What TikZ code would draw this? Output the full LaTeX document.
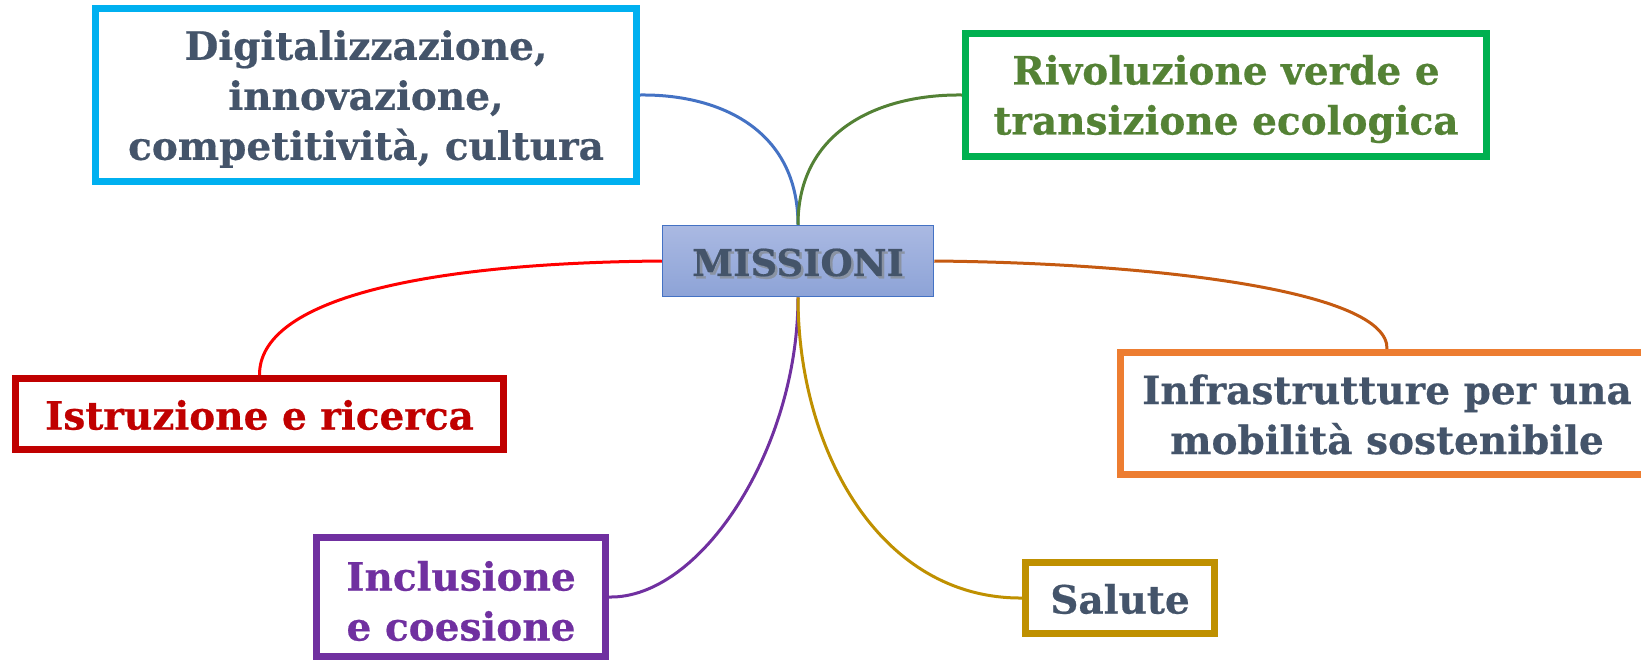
\documentclass[tikz,border=0pt]{standalone}
\usepackage{fontspec}
\setmainfont{DejaVu Serif}
\newfontfamily\heavy{DejaVu Serif Bold}[FakeBold=0.5]
\usetikzlibrary{backgrounds}
\definecolor{slate}{HTML}{44546A}
\definecolor{cyanB}{HTML}{00B0F0}
\definecolor{greenB}{HTML}{00B050}
\definecolor{greenT}{HTML}{548235}
\definecolor{redB}{HTML}{C00000}
\definecolor{orangeB}{HTML}{ED7D31}
\definecolor{purpleB}{HTML}{7030A0}
\definecolor{goldB}{HTML}{BF9000}
\definecolor{blueL}{HTML}{4472C4}
\definecolor{greenL}{HTML}{538135}
\definecolor{redL}{HTML}{FF0000}
\definecolor{orangeL}{HTML}{C55A11}
\definecolor{misTop}{HTML}{AAB9E2}
\definecolor{misBot}{HTML}{8DA3D7}
\definecolor{shadowgray}{HTML}{8A93A3}
\tikzset{
  box/.style={draw, line width=7pt, fill=white, inner sep=0pt},
  boxtext/.style={align=center, inner sep=0pt, yshift=-4pt,
    font=\fontsize{39}{50}\heavy},
  link/.style={line width=3pt},
  mistext/.style={inner sep=0pt, font=\fontsize{37}{50}\heavy},
}
\begin{document}
\begin{tikzpicture}[x=1pt,y=-1pt]
\useasboundingbox (0,0) rectangle (1641,662);
\node[box, draw=cyanB, minimum width=541, minimum height=173,
  label={[boxtext, text=slate, name=digt]center:{Digitalizzazione,\\innovazione,\\competitività, cultura}}]
  (dig) at (366,95) {};
\node[box, draw=greenB, minimum width=521, minimum height=123,
  label={[boxtext, text=greenT, name=rivt]center:{Rivoluzione verde e\\transizione ecologica}}]
  (riv) at (1226,95) {};
\node[box, draw=redB, minimum width=488, minimum height=71,
  label={[boxtext, yshift=3pt, text=redB, name=istt]center:{Istruzione e ricerca}}]
  (ist) at (259.5,414) {};
\node[box, draw=orangeB, minimum width=533, minimum height=122,
  label={[boxtext, yshift=3pt, text=slate, name=inft]center:{Infrastrutture per una\\mobilità sostenibile}}]
  (inf) at (1387,413.5) {};
\node[box, draw=purpleB, minimum width=289, minimum height=119,
  label={[boxtext, text=purpleB, name=inct]center:{Inclusione\\e coesione}}]
  (inc) at (461,597) {};
\node[box, draw=goldB, minimum width=189, minimum height=71,
  label={[boxtext, yshift=3pt, text=slate, name=salt]center:{Salute}}]
  (sal) at (1120,598) {};
\node[draw=blueL, line width=1.5pt, top color=misTop, bottom color=misBot,
  minimum width=271, minimum height=71, inner sep=0pt] (mis) at (798,261) {};
\node[mistext, text=shadowgray] (mshadow) at (800.5,265) {MISSIONI};
\node[mistext, text=slate] (mtext) at (798,262.5) {MISSIONI};
\begin{scope}[on background layer]
\draw[link, blueL] (mis.north) .. controls (798,130) and (720,94) .. (dig.east);
\draw[link, greenL] (mis.north) .. controls (798,130) and (880,94) .. (riv.west);
\draw[link, redL] (mis.west) .. controls (420,263) and (259,300) .. (ist.north);
\draw[link, orangeL] (mis.east) .. controls (1150,263) and (1389,290) .. (inf.north);
\draw[link, purpleB] (mis.south) .. controls (798,450) and (700,599) .. (inc.east);
\draw[link, goldB] (mis.south) .. controls (798,450) and (880,599) .. (sal.west);
\end{scope}
\end{tikzpicture}
\end{document}
